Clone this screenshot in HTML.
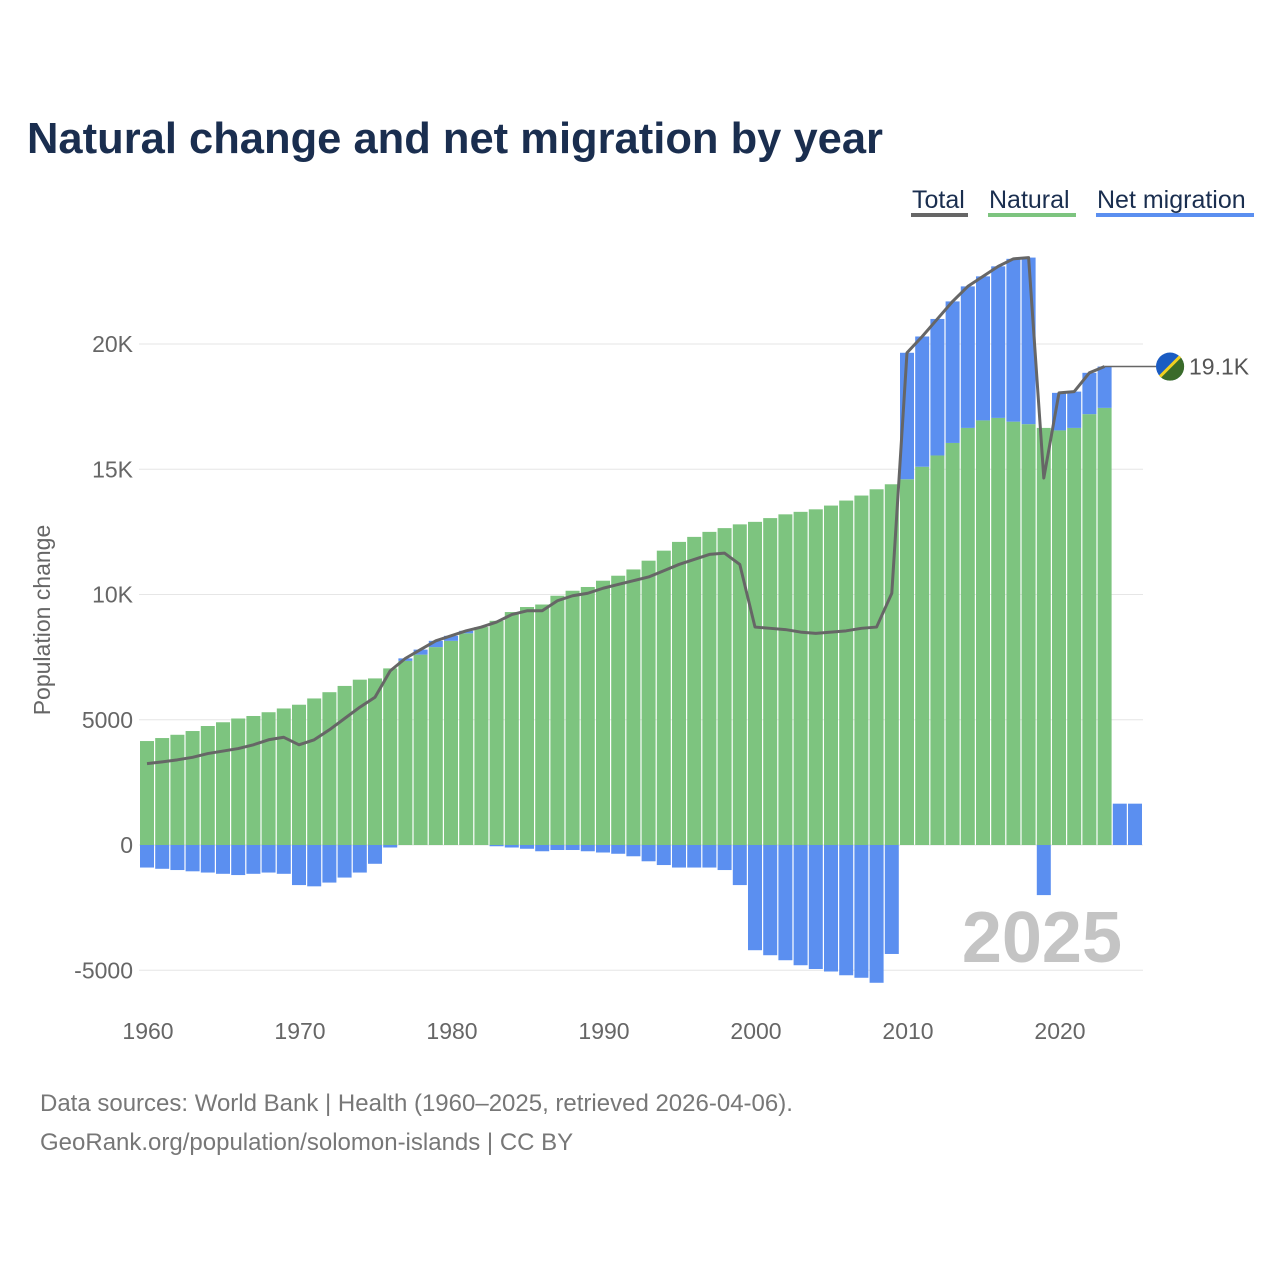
<!DOCTYPE html>
<html><head><meta charset="utf-8"><style>
body{margin:0;background:#fff;font-family:"Liberation Sans",sans-serif}
</style></head><body>
<svg width="1280" height="1280" xmlns="http://www.w3.org/2000/svg" style="font-family:'Liberation Sans',sans-serif">
<text x="27" y="153" font-size="44" font-weight="bold" fill="#1a2e4f" textLength="856" lengthAdjust="spacingAndGlyphs">Natural change and net migration by year</text>
<g font-size="25">
<text x="912" y="208" fill="#1a2e4f">Total</text>
<rect x="911" y="213" width="57" height="4" fill="#666"/>
<text x="989" y="208" fill="#1a2e4f">Natural</text>
<rect x="988" y="213" width="88" height="4" fill="#7dc47f"/>
<text x="1097" y="208" fill="#1a2e4f">Net migration</text>
<rect x="1096" y="213" width="158" height="4" fill="#5b8ff0"/>
</g>
<g id="grid"></g><g id="bars"></g><g id="line"></g><g id="axes"></g>
<text x="1122" y="962" font-size="72" font-weight="bold" fill="#c4c4c4" text-anchor="end">2025</text>
<text transform="translate(50,620) rotate(-90)" font-size="23" fill="#666" text-anchor="middle">Population change</text>
<text x="40" y="1111" font-size="24" fill="#777">Data sources: World Bank | Health (1960–2025, retrieved 2026-04-06).</text>
<text x="40" y="1150" font-size="24" fill="#777">GeoRank.org/population/solomon-islands | CC BY</text>
</svg>
<script>
const years=[];for(let y=1960;y<=2025;y++)years.push(y);
const natural=[4150,4270,4400,4550,4750,4900,5050,5150,5300,5450,
5600,5850,6100,6350,6600,6650,7050,7350,7600,7900,
8150,8450,8700,8950,9300,9500,9600,9950,10150,10300,
10550,10750,11000,11350,11750,12100,12300,12500,12650,12800,
12900,13050,13200,13300,13400,13550,13750,13950,14200,14400,
14600,15100,15550,16050,16650,16950,17050,16900,16800,16650,
16550,16650,17200,17450,0,0];
const migration=[-900,-950,-1000,-1050,-1100,-1150,-1200,-1150,-1100,-1150,
-1600,-1650,-1500,-1300,-1100,-750,-100,100,200,250,
200,100,0,-50,-100,-150,-250,-200,-200,-250,
-300,-350,-450,-650,-800,-900,-900,-900,-1000,-1600,
-4200,-4400,-4600,-4800,-4950,-5050,-5200,-5300,-5500,-4350,
5050,5200,5450,5650,5650,5750,6050,6500,6650,-2000,
1500,1450,1650,1650,1650,1650];
const yTicks=[-5000,0,5000,10000,15000,20000];
const yTickLabels=["-5000","0","5000","10K","15K","20K"];
const xTicks=[1960,1970,1980,1990,2000,2010,2020];
const NS="http://www.w3.org/2000/svg";
const X=y=>148+(y-1960)*15.2, Y=v=>845-v*0.02505;
function mk(t,a,p){const e=document.createElementNS(NS,t);for(const k in a)e.setAttribute(k,a[k]);document.getElementById(p).appendChild(e);return e;}
yTicks.forEach((v,i)=>{
 const l=mk('line',{x1:139,x2:1143,y1:Y(v),y2:Y(v),stroke:'#e6e6e6','stroke-width':1},'grid');
 
 
 const t=mk('text',{x:133,y:Y(v)+8,'font-size':23,fill:'#666','text-anchor':'end'},'axes');t.textContent=yTickLabels[i];
 
 
});
xTicks.forEach(v=>{
 const t=mk('text',{x:X(v),y:1039,'font-size':23,fill:'#666','text-anchor':'middle'},'axes');t.textContent=v;
 
 
});
const bw=14;
years.forEach((yr,i)=>{
 const n=natural[i],m=migration[i],x=X(yr)-bw/2-1;
 if(n>0){const r=mk('rect',{x:x,y:Y(n),width:bw,height:Y(0)-Y(n),fill:'#7dc47f'},'bars');
  
  }
 if(m!==0){let y0,y1;if(m>0){y0=Y(n+m);y1=Y(n);}else{y0=Y(0);y1=Y(m);}
  const r=mk('rect',{x:x,y:y0,width:bw,height:y1-y0,fill:'#5b8ff0'},'bars');
  
  }
});
let pts=[],last=null;
years.forEach((yr,i)=>{if(natural[i]>0){last=[X(yr)-1,Y(natural[i]+migration[i])];pts.push(last.join(','));}});
const pl=mk('polyline',{points:pts.join(' '),fill:'none',stroke:'#666','stroke-width':3,'stroke-linejoin':'round'},'line');


const ld=mk('line',{x1:last[0],y1:last[1],x2:1156,y2:last[1],stroke:'#666','stroke-width':1.5},'line');


const fl=mk('circle',{cx:1170,cy:last[1],r:14,fill:'#1a5bc2'},'line');


const fp=mk('path',{d:`M1160 ${last[1]+10} L1180 ${last[1]-10} A14 14 0 0 1 1160 ${last[1]+10} Z`,fill:'#3a6b2a'},'line');


const fs=mk('line',{x1:1160,y1:last[1]+10,x2:1180,y2:last[1]-10,stroke:'#f0d020','stroke-width':3},'line');


const et=mk('text',{x:1189,y:last[1]+8,'font-size':23,fill:'#555'},'line');
et.textContent=((natural[63]+migration[63])/1000).toFixed(1)+'K';


</script>
</body></html>
